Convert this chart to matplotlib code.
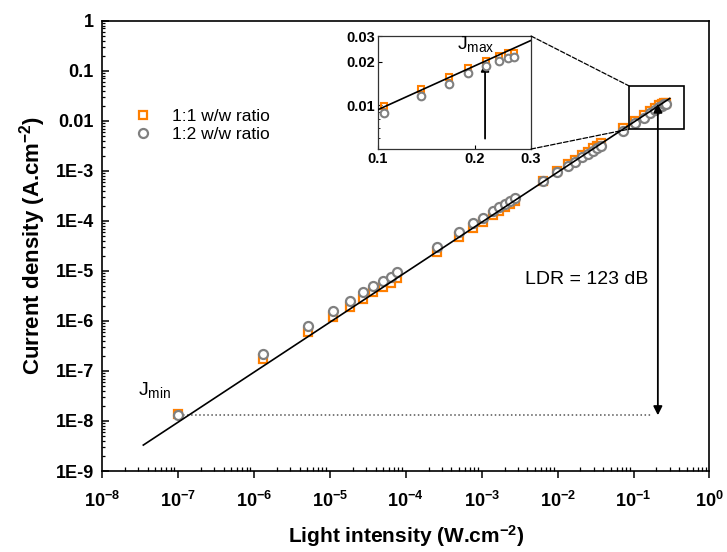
import matplotlib
matplotlib.use("Agg")
import matplotlib.pyplot as plt
from matplotlib.patches import Rectangle, ConnectionPatch
from matplotlib.ticker import FixedLocator, FixedFormatter, LogLocator, NullFormatter

plt.rcParams["font.family"] = ["Liberation Sans", "DejaVu Sans"]
plt.rcParams["font.weight"] = "bold"
plt.rcParams["mathtext.fontset"] = "custom"
plt.rcParams["mathtext.rm"] = "Liberation Sans:bold"
plt.rcParams["mathtext.bf"] = "Liberation Sans:bold"
plt.rcParams["mathtext.it"] = "Liberation Sans:italic:bold"

# light intensity (W/cm2), shared by both series
intensity = [1.0e-7, 1.3e-6, 5.2e-6, 1.11e-5, 1.85e-5, 2.76e-5, 3.74e-5, 4.98e-5,
             6.34e-5, 7.75e-5, 2.56e-4, 5.08e-4, 7.78e-4, 1.05e-3, 1.4e-3, 1.71e-3,
             2.03e-3, 2.37e-3, 2.75e-3, 6.4e-3, 9.9e-3, 1.36e-2, 1.7e-2, 2.08e-2,
             2.5e-2, 2.9e-2, 3.28e-2, 3.7e-2, 7.2e-2, 0.104, 0.136, 0.166, 0.191,
             0.217, 0.2385, 0.255, 0.2655]
# current density (A/cm2), 1:1 w/w ratio
j_11 = [1.4e-8, 1.7e-7, 6.0e-7, 1.2e-6, 1.9e-6, 2.8e-6, 3.75e-6, 4.7e-6,
        5.75e-6, 7.05e-6, 2.37e-5, 4.65e-5, 7.2e-5, 9.3e-5, 1.3e-4, 1.55e-4,
        1.85e-4, 2.15e-4, 2.45e-4, 6.4e-4, 1.0e-3, 1.38e-3, 1.68e-3, 2.05e-3,
        2.42e-3, 2.8e-3, 3.15e-3, 3.55e-3, 7.3e-3, 9.9e-3, 1.29e-2, 1.57e-2, 1.81e-2,
        2.02e-2, 2.18e-2, 2.28e-2, 2.31e-2]
# current density (A/cm2), 1:2 w/w ratio
j_12 = [1.3e-8, 2.23e-7, 7.9e-7, 1.58e-6, 2.5e-6, 3.7e-6, 4.9e-6, 6.2e-6,
        7.6e-6, 9.3e-6, 3.0e-5, 6.0e-5, 8.9e-5, 1.15e-4, 1.58e-4, 1.85e-4,
        2.2e-4, 2.5e-4, 2.8e-4, 6.2e-4, 9.5e-4, 1.26e-3, 1.5e-3, 1.85e-3,
        2.16e-3, 2.5e-3, 2.8e-3, 3.2e-3, 6.3e-3, 8.9e-3, 1.16e-2, 1.41e-2, 1.66e-2,
        1.86e-2, 2.01e-2, 2.12e-2, 2.16e-2]
# linear fit
fit_x = [3.5e-8, 0.3]
fit_j = [3.3e-9, 2.8e-2]

j_min = 1.3e-8
j_max = 2.2e-2
ldr_x = 0.209
ytick_vals = [1, 0.1, 0.01, 1e-3, 1e-4, 1e-5, 1e-6, 1e-7, 1e-8, 1e-9]
ytick_labels = ["1", "0.1", "0.01", "1E-3", "1E-4", "1E-5", "1E-6", "1E-7", "1E-8", "1E-9"]
xtick_vals = [1e-8, 1e-7, 1e-6, 1e-5, 1e-4, 1e-3, 1e-2, 1e-1, 1e0]
xtick_labels = [r"$\mathbf{10^{%d}}$" % e for e in range(-8, 1)]

orange = "#ff7f00"
grey = "#808080"

fig = plt.figure(figsize=(7.27, 5.52), dpi=100)
ax = fig.add_axes([0.1403, 0.1467, 0.8356, 0.8158])

ax.plot(intensity, j_11, "s", ms=5.5, mfc="none", mec=orange, mew=1.6,
        label="1:1 w/w ratio", zorder=3)
ax.plot(intensity, j_12, "o", ms=6.5, mfc="white", mec=grey, mew=1.6,
        label="1:2 w/w ratio", zorder=4)
ax.plot(fit_x, fit_j, "-", color="black", lw=1.2, zorder=5)

ax.set_xscale("log")
ax.set_yscale("log")
ax.set_xlim(1e-8, 1)
ax.set_ylim(1e-9, 1)

ax.yaxis.set_major_locator(FixedLocator(ytick_vals))
ax.yaxis.set_major_formatter(FixedFormatter(ytick_labels))
ax.yaxis.set_minor_locator(LogLocator(base=10, subs=range(2, 10), numticks=20))
ax.yaxis.set_minor_formatter(NullFormatter())
ax.xaxis.set_major_locator(FixedLocator(xtick_vals))
ax.xaxis.set_major_formatter(FixedFormatter(xtick_labels))
ax.xaxis.set_minor_locator(LogLocator(base=10, subs=range(2, 10), numticks=20))
ax.xaxis.set_minor_formatter(NullFormatter())

ax.tick_params(axis="y", which="major", direction="in", length=5, width=1.1, labelsize=13, pad=6)
ax.tick_params(axis="y", which="minor", direction="in", length=2.5, width=0.9)
ax.tick_params(axis="x", which="major", direction="out", length=5, width=1.1, labelsize=13, pad=9)
ax.tick_params(axis="x", which="minor", direction="in", length=3, width=0.9)
for s in ax.spines.values():
    s.set_linewidth(1.2)

ax.set_xlabel(r"Light intensity (W.cm$^{\mathbf{-2}}$)", fontsize=15, fontweight="bold", labelpad=9)
ax.set_ylabel(r"Current density (A.cm$^{\mathbf{-2}}$)", fontsize=16, fontweight="bold", labelpad=5)

leg = ax.legend(loc="upper left", bbox_to_anchor=(0.027, 0.838), frameon=False,
                prop={"family": "Liberation Sans", "weight": "normal", "size": 12.5},
                handletextpad=1.2, labelspacing=0.15, handlelength=1.0)

# J_min dotted level and LDR arrow
ax.plot([1.16e-7, 0.174], [j_min, j_min], ":", color="#555555", lw=1.1, zorder=2)
ax.annotate("", xy=(ldr_x, j_min), xytext=(ldr_x, j_max),
            arrowprops=dict(arrowstyle="<|-|>", color="black", lw=1.3,
                            mutation_scale=13, shrinkA=0, shrinkB=0), zorder=8)
ax.text(3.7e-3, 6.8e-6, "LDR = 123 dB", fontsize=14, fontweight="normal", va="center")
ax.text(3.0e-8, 3.3e-8, r"J$_{\mathregular{min}}$", fontsize=14, fontweight="normal",
        family="Liberation Sans")

# zoom rectangle
rx0, rx1, ry0, ry1 = 0.0867, 0.464, 6.8e-3, 5.0e-2
ax.add_patch(Rectangle((rx0, ry0), rx1 - rx0, ry1 - ry0, fill=False, ec="black", lw=1.2, zorder=6))

# inset
axins = fig.add_axes([0.52, 0.73, 0.2105, 0.2047])
axins.plot(intensity, j_11, "s", ms=5, mfc="none", mec=orange, mew=1.5, zorder=3)
axins.plot(intensity, j_12, "o", ms=5.5, mfc="white", mec=grey, mew=1.5, zorder=4)
axins.plot(fit_x, fit_j, "-", color="black", lw=1.2, zorder=5)
axins.set_xscale("log")
axins.set_yscale("log")
axins.set_xlim(0.1, 0.3)
axins.set_ylim(0.005, 0.03)
axins.xaxis.set_major_locator(FixedLocator([0.1, 0.2, 0.3]))
axins.xaxis.set_major_formatter(FixedFormatter(["0.1", "0.2", "0.3"]))
axins.xaxis.set_minor_locator(FixedLocator([]))
axins.yaxis.set_major_locator(FixedLocator([0.01, 0.02, 0.03]))
axins.yaxis.set_major_formatter(FixedFormatter(["0.01", "0.02", "0.03"]))
axins.yaxis.set_minor_locator(LogLocator(base=10, subs=range(2, 10), numticks=20))
axins.yaxis.set_minor_formatter(NullFormatter())
axins.tick_params(which="major", direction="in", length=3, width=0.8, labelsize=10.5, pad=2)
axins.tick_params(which="minor", direction="in", length=1.5, width=0.6)
for s in axins.spines.values():
    s.set_linewidth(0.9)
    s.set_color("#333333")
axins.annotate("", xy=(0.2156, 0.0195), xytext=(0.2156, 0.0059),
               arrowprops=dict(arrowstyle="-|>", color="black", lw=1.3,
                               mutation_scale=12, shrinkA=0, shrinkB=0))
axins.text(0.176, 0.0243, r"J$_{\mathregular{max}}$", fontsize=14, fontweight="normal",
           family="Liberation Sans")

for xa, xb in [((1, 1), (rx0, ry1)), ((1, 0), (rx0, ry0))]:
    con = ConnectionPatch(xyA=xa, coordsA=axins.transAxes, xyB=xb, coordsB=ax.transData,
                          linestyle="--", color="black", lw=0.9)
    fig.add_artist(con)

fig.savefig("out.png", dpi=100)
